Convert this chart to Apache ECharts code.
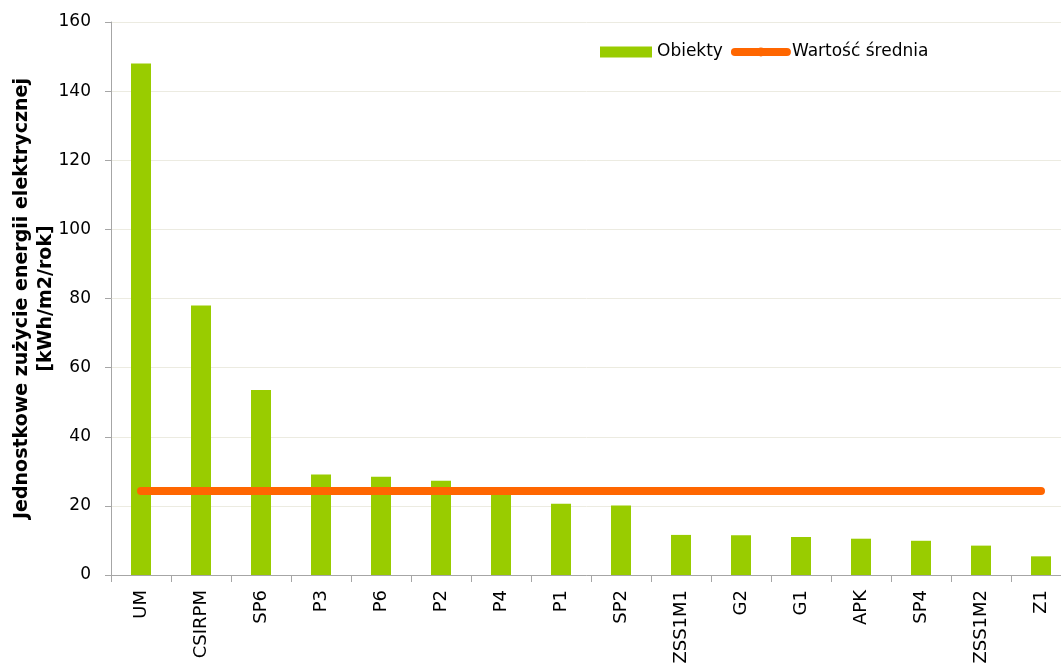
<!DOCTYPE html>
<html>
<head>
<meta charset="utf-8">
<script src="https://cdn.jsdelivr.net/npm/echarts@6/dist/echarts.min.js"></script>
<style>
  html, body { margin: 0; padding: 0; background: #fff; }
  #chart { width: 1061px; height: 664px; }
</style>
</head>
<body>
<div id="chart"></div>
<script>
// dane
let categories = ['UM', 'CSIRPM', 'SP6', 'P3', 'P6', 'P2', 'P4', 'P1', 'SP2', 'ZSS1M1', 'G2', 'G1', 'APK', 'SP4', 'ZSS1M2', 'Z1'];
let objValues = [148, 78, 53.5, 29.1, 28.4, 27.3, 24.8, 20.6, 20.1, 11.6, 11.5, 11.0, 10.5, 9.9, 8.5, 5.4];
let meanValues = [24.3, 24.3, 24.3, 24.3, 24.3, 24.3, 24.3, 24.3, 24.3, 24.3, 24.3, 24.3, 24.3, 24.3, 24.3, 24.3];
let seriesNames = ['Obiekty', 'Wartość średnia'];
let yTitle = 'Jednostkowe zużycie energii elektrycznej\n[kWh/m2/rok]';

let myChart = echarts.init(document.getElementById('chart'));
let font = 'DejaVu Sans, Verdana, sans-serif';

let option = {
    animation: false,
    textStyle: { fontFamily: font },
    grid: {
        left: 111,
        top: 22,
        width: 960,
        height: 553,
        containLabel: false,
        outerBoundsMode: 'none'
    },
    legend: {
        left: 600,
        top: 42,
        padding: 0,
        itemWidth: 52,
        itemHeight: 11,
        itemGap: 8,
        textStyle: { fontSize: 17, color: '#000', fontFamily: font, lineHeight: 20 },
        data: [
            { name: seriesNames[0], icon: 'rect' },
            { name: seriesNames[1], lineStyle: { width: 8, cap: 'round' } }
        ]
    },
    xAxis: {
        type: 'category',
        data: categories,
        axisLine: { lineStyle: { color: '#a6a6a6', width: 1 } },
        axisTick: { show: true, interval: 0, length: 7, lineStyle: { color: '#a6a6a6' } },
        axisLabel: {
            interval: 0,
            rotate: 90,
            margin: 15,
            fontSize: 18,
            color: '#000',
            fontFamily: font
        }
    },
    yAxis: {
        type: 'value',
        min: 0,
        max: 160,
        interval: 20,
        name: yTitle,
        nameLocation: 'middle',
        nameGap: 53,
        nameMoveOverlap: false,
        nameTextStyle: {
            fontSize: 19,
            fontWeight: 'bold',
            color: '#000',
            lineHeight: 24,
            fontFamily: font
        },
        axisLine: { show: true, lineStyle: { color: '#a6a6a6', width: 1 } },
        axisTick: { show: true, length: 6, lineStyle: { color: '#a6a6a6' } },
        axisLabel: { fontSize: 17, color: '#000', margin: 20, fontFamily: font },
        splitLine: { show: true, lineStyle: { color: '#ecebe1', width: 1 } }
    },
    series: [
        {
            name: seriesNames[0],
            type: 'bar',
            barWidth: 20,
            data: objValues,
            itemStyle: { color: '#99cc00' }
        },
        {
            name: seriesNames[1],
            type: 'line',
            data: meanValues,
            symbol: 'circle',
            symbolSize: 6,
            showSymbol: false,
            z: 3,
            lineStyle: { color: '#ff6600', width: 8, cap: 'round' },
            itemStyle: { color: '#ff6600' }
        }
    ]
};

myChart.setOption(option);
</script>
</body>
</html>
